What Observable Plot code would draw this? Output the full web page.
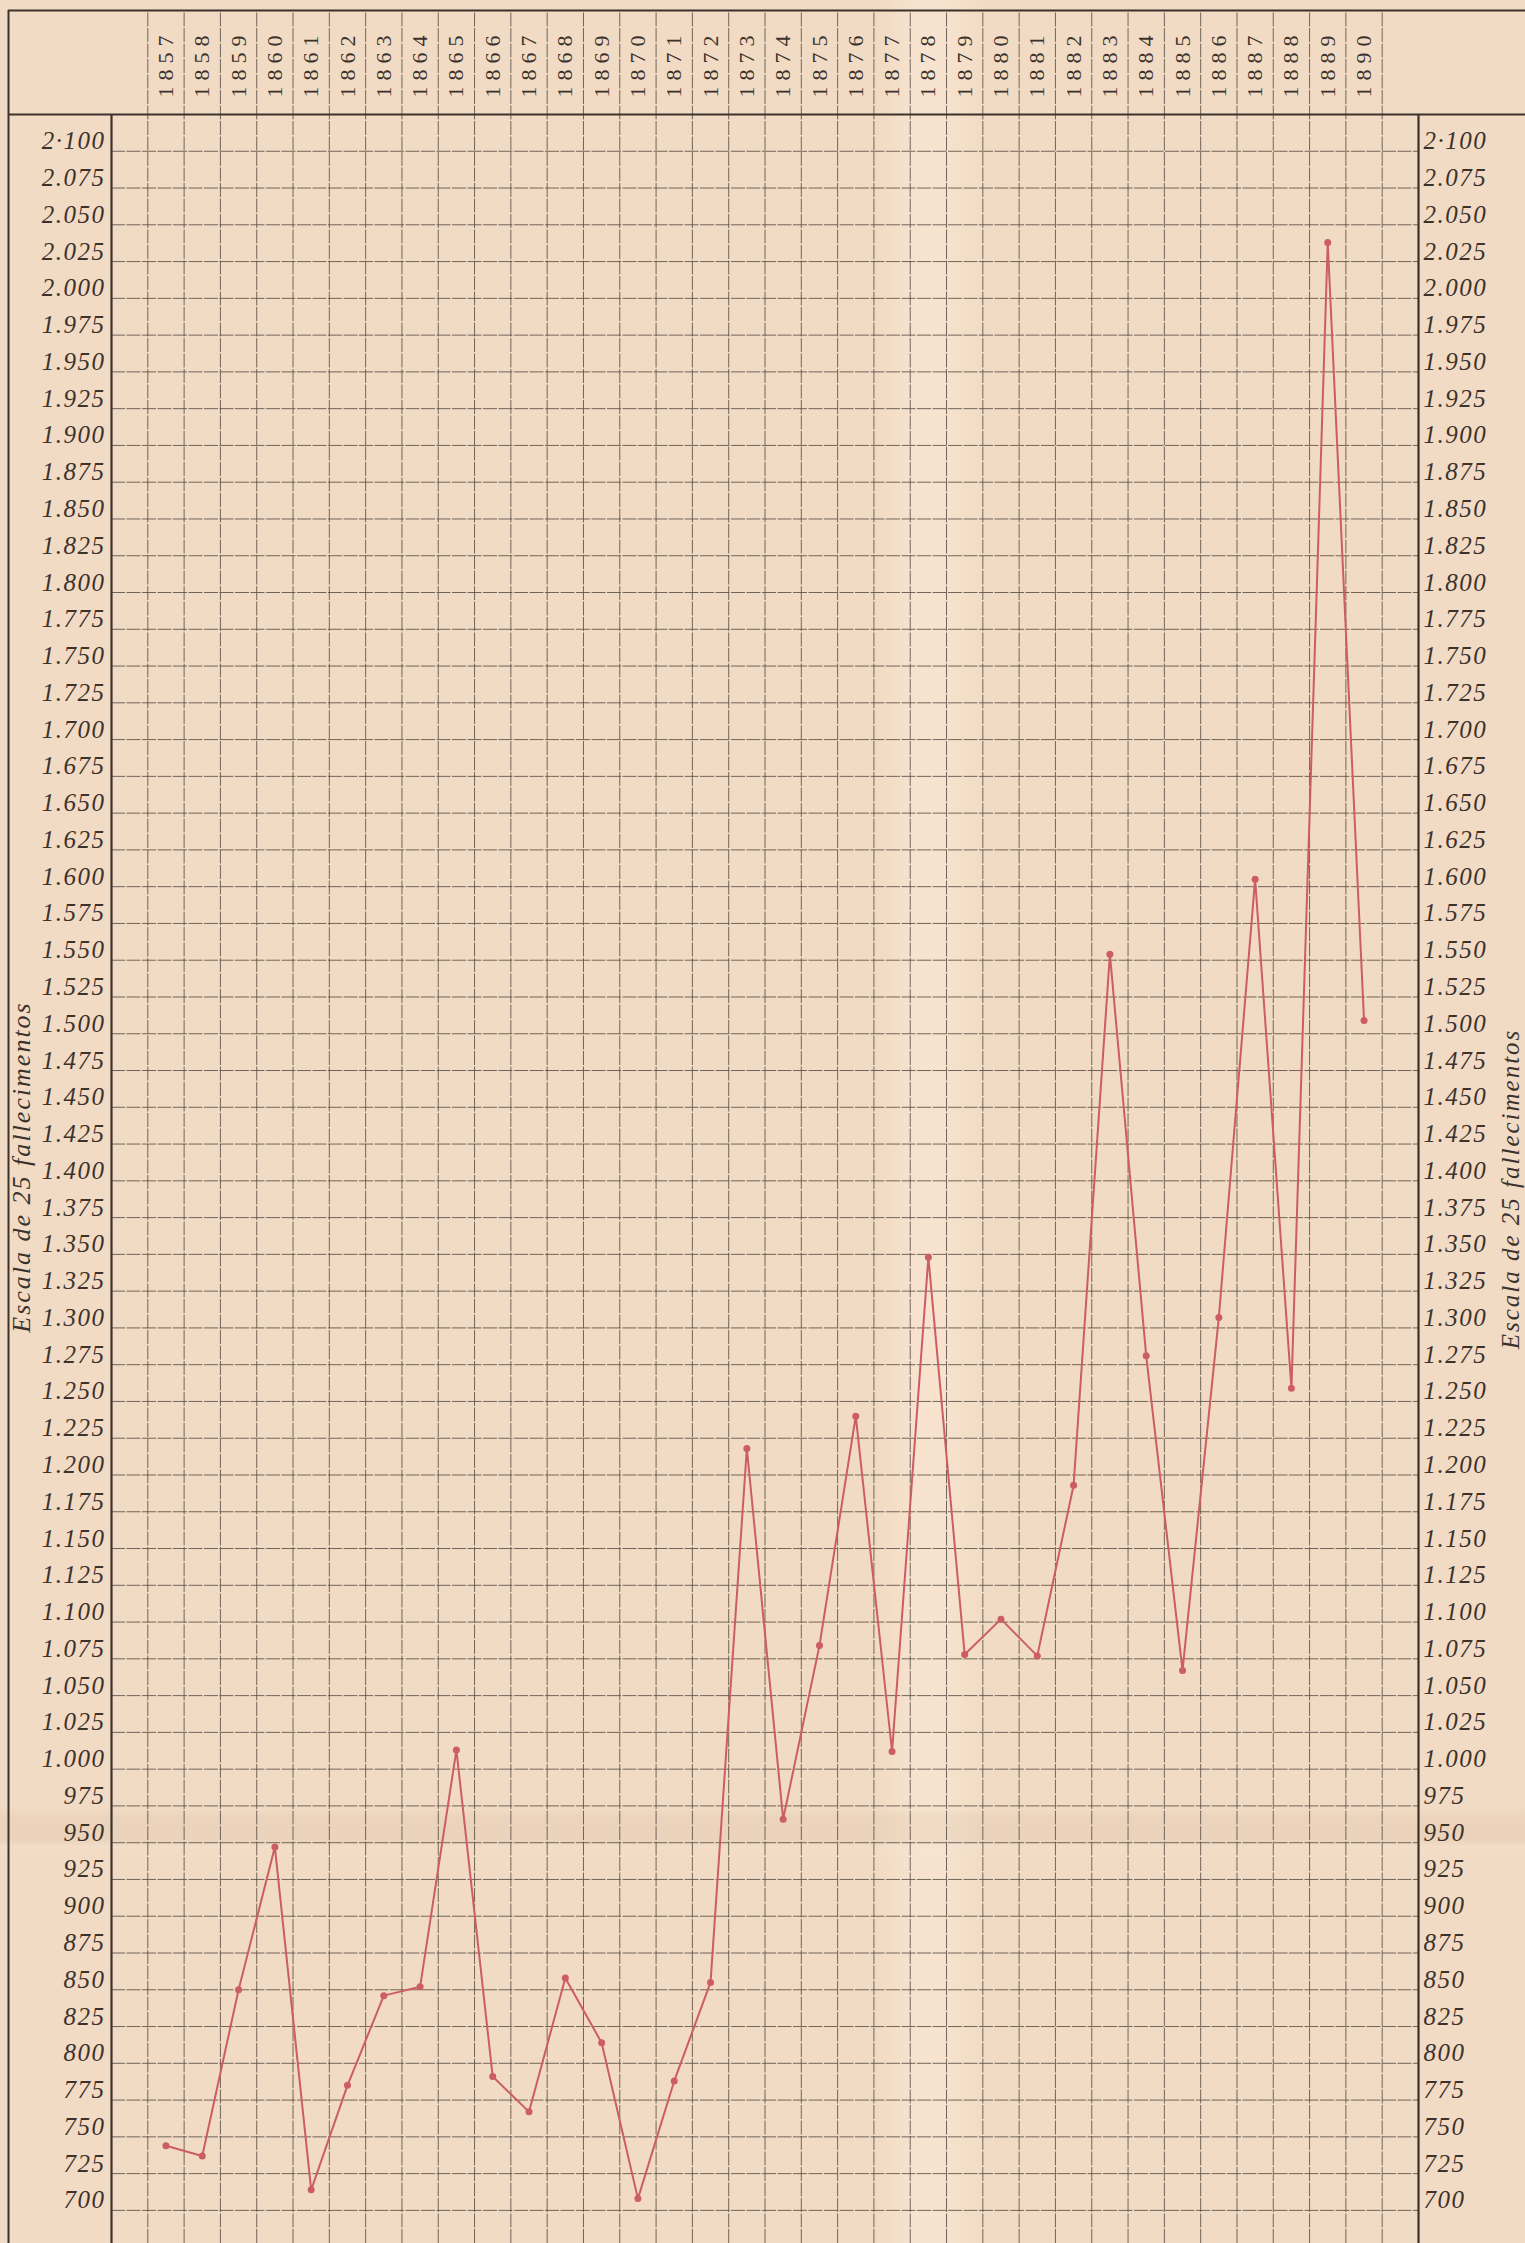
<!DOCTYPE html>
<html>
<head>
<meta charset="utf-8">
<script src="https://cdn.jsdelivr.net/npm/d3@7"></script>
<script src="https://cdn.jsdelivr.net/npm/@observablehq/plot@0.6"></script>
<style>
  html, body { margin: 0; padding: 0; }
  body {
    background:
      linear-gradient(180deg, rgba(0,0,0,0) 1808px, rgba(150,110,80,0.07) 1818px, rgba(150,110,80,0.07) 1840px, rgba(255,255,255,0.06) 1846px, rgba(0,0,0,0) 1860px),
      linear-gradient(90deg, rgba(0,0,0,0) 880px, rgba(255,240,225,0.35) 915px, rgba(255,240,225,0.35) 945px, rgba(0,0,0,0) 985px),
      #f2dbc4;
  }
  #chart svg { display: block; }
</style>
</head>
<body>
<div id="chart"></div>
<script>
// ---- data ----
const years = [1857, 1858, 1859, 1860, 1861, 1862, 1863, 1864, 1865, 1866, 1867, 1868,
  1869, 1870, 1871, 1872, 1873, 1874, 1875, 1876, 1877, 1878, 1879, 1880, 1881, 1882,
  1883, 1884, 1885, 1886, 1887, 1888, 1889, 1890];
const deaths = [744, 737, 850, 947, 714, 785, 846, 852, 1013, 791, 767, 858,
  814, 708, 788, 855, 1218, 966, 1084, 1240, 1012, 1348, 1078, 1102, 1077, 1193,
  1554, 1281, 1067, 1307, 1605, 1259, 2038, 1509];
const tickValues = [2100, 2075, 2050, 2025, 2000, 1975, 1950, 1925, 1900, 1875, 1850, 1825,
  1800, 1775, 1750, 1725, 1700, 1675, 1650, 1625, 1600, 1575, 1550, 1525, 1500, 1475, 1450,
  1425, 1400, 1375, 1350, 1325, 1300, 1275, 1250, 1225, 1200, 1175, 1150, 1125, 1100, 1075,
  1050, 1025, 1000, 975, 950, 925, 900, 875, 850, 825, 800, 775, 750, 725, 700];
const tickLabels = ["2·100", "2.075", "2.050", "2.025", "2.000", "1.975", "1.950", "1.925",
  "1.900", "1.875", "1.850", "1.825", "1.800", "1.775", "1.750", "1.725", "1.700", "1.675",
  "1.650", "1.625", "1.600", "1.575", "1.550", "1.525", "1.500", "1.475", "1.450", "1.425",
  "1.400", "1.375", "1.350", "1.325", "1.300", "1.275", "1.250", "1.225", "1.200", "1.175",
  "1.150", "1.125", "1.100", "1.075", "1.050", "1.025", "1.000", "975", "950", "925", "900",
  "875", "850", "825", "800", "775", "750", "725", "700"];
const sideLabel = "Escala de 25 fallecimentos";

// ---- layout ----
const W = 1525, H = 2243;
const frameLeft = 111, frameRight = 1418, frameTop = 114, headerTop = 10, outerLeft = 8;
const pxPerUnit = 36.77 / 25;
const yMax = 2125;
const yMin = yMax - (H - frameTop) / pxPerUnit;
const xLo = years[0] - 1.5, xHi = years[years.length - 1] + 1.5;
const pxPerYear = (frameRight - frameLeft) / (xHi - xLo);
const yHeaderTop = yMax + (frameTop - headerTop) / pxPerUnit;
const yYearLabel = yMax + (frameTop - 63) / pxPerUnit;
const xOuter = xLo - (frameLeft - outerLeft) / pxPerYear;
const xEdge = xHi + (W - frameRight) / pxPerYear;
const boundaries = years.map(y => y - 0.5).concat([years[years.length - 1] + 0.5]);

const ink = "#3b322c";
const grid = "#5a5048";
const red = "#cc5d63";
const serif = "'Liberation Serif', 'DejaVu Serif', serif";
const ticks = tickValues.map((v, i) => ({v, label: tickLabels[i]}));
const series = years.map((y, i) => ({year: y, value: deaths[i]}));

const chart = Plot.plot({
  width: W,
  height: H,
  marginLeft: frameLeft,
  marginRight: W - frameRight,
  marginTop: frameTop,
  marginBottom: 0,
  x: {domain: [xLo, xHi], axis: null},
  y: {domain: [yMin, yMax], axis: null},
  style: {background: "transparent", fontFamily: serif, color: ink},
  marks: [
    // horizontal grid
    Plot.ruleY(ticks, {y: "v", x1: xLo, x2: xHi, stroke: grid, strokeWidth: 1, strokeOpacity: 0.85, strokeDasharray: "14,1.5"}),
    // vertical grid (through header)
    Plot.ruleX(boundaries, {x: d => d, y1: yMin, y2: yHeaderTop, stroke: grid, strokeWidth: 1, strokeOpacity: 0.85, strokeDasharray: "14,1.5"}),
    // label column borders
    Plot.ruleX([xLo, xHi], {x: d => d, y1: yMin, y2: yMax, stroke: ink, strokeWidth: 2.2}),
    // outer left border
    Plot.ruleX([xOuter], {x: d => d, y1: yMin, y2: yHeaderTop, stroke: ink, strokeWidth: 2}),
    // header top & bottom lines
    Plot.ruleY([yHeaderTop, yMax], {y: d => d, x1: xOuter, x2: xEdge, stroke: ink, strokeWidth: 2}),
    // year labels
    Plot.text(years, {x: d => d, y: yYearLabel, text: d => String(d), rotate: -90,
      fontSize: 22, fill: ink, textAnchor: "middle", lineAnchor: "middle", fontFamily: serif}),
    // left tick labels
    Plot.text(ticks, {x: xLo, y: "v", text: "label", textAnchor: "end", lineAnchor: "bottom",
      dx: -6, dy: -2, fontSize: 25, fontStyle: "italic", fill: ink, fontFamily: serif}),
    // right tick labels
    Plot.text(ticks, {x: xHi, y: "v", text: "label", textAnchor: "start", lineAnchor: "bottom",
      dx: 5, dy: -2, fontSize: 25, fontStyle: "italic", fill: ink, fontFamily: serif}),
    // side labels
    Plot.text([sideLabel], {frameAnchor: "left", text: d => d, rotate: -90, dx: -90, dy: -12,
      textAnchor: "middle", lineAnchor: "middle",
      fontSize: 26, fontStyle: "italic", fill: ink, fontFamily: serif}),
    Plot.text([sideLabel], {frameAnchor: "right", text: d => d, rotate: -90, dx: 92, dy: 10,
      textAnchor: "middle", lineAnchor: "middle",
      fontSize: 25, fontStyle: "italic", fill: ink, fontFamily: serif}),
    // data
    Plot.line(series, {x: "year", y: "value", stroke: red, strokeWidth: 2}),
    Plot.dot(series, {x: "year", y: "value", r: 3.5, fill: red, stroke: "none"})
  ]
});

// letter spacing of the engraved lettering (text mark groups, in mark order)
const textGroups = chart.querySelectorAll('g[aria-label="text"]');
const spacing = ["6px", "1.5px", "1.5px", "2px", "2px"];
textGroups.forEach((g, i) => { if (spacing[i]) g.style.letterSpacing = spacing[i]; });

document.getElementById("chart").appendChild(chart);
</script>
</body>
</html>
